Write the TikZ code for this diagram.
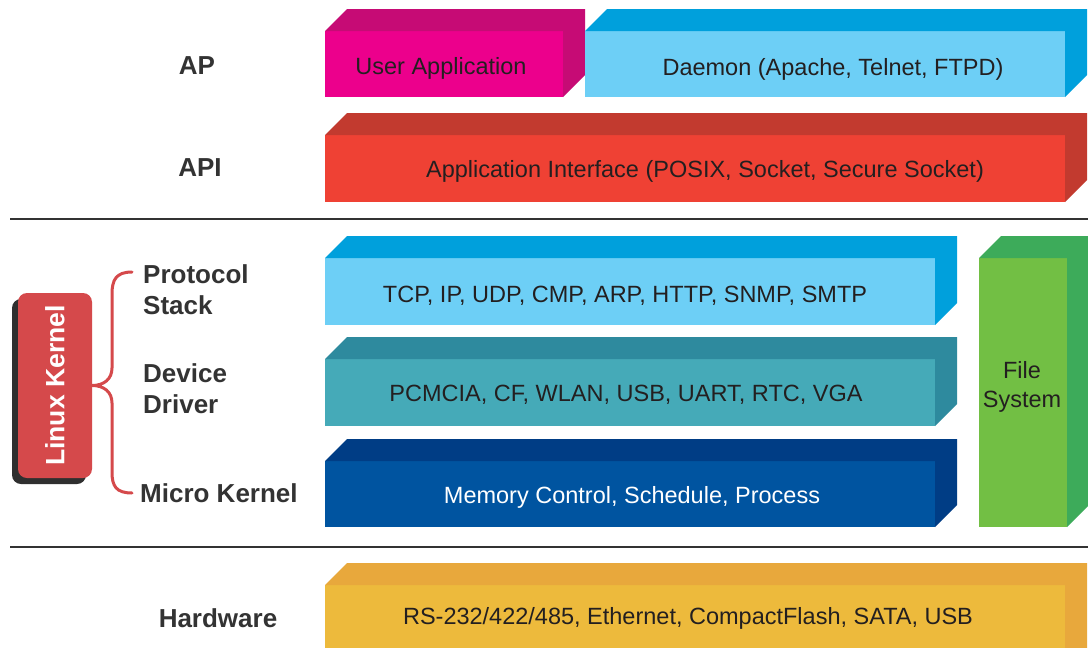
\documentclass[tikz,border=0pt]{standalone}
\usepackage{fontspec}
\setmainfont{Liberation Sans}
\usepackage{graphicx}
\definecolor{txt}{HTML}{231F20}
\definecolor{lblc}{HTML}{333333}
\definecolor{magF}{HTML}{EC008C}
\definecolor{magS}{HTML}{C60B75}
\definecolor{cyanF}{HTML}{6DCFF6}
\definecolor{cyanS}{HTML}{00A0DC}
\definecolor{redF}{HTML}{EF4134}
\definecolor{redS}{HTML}{C23A2F}
\definecolor{tealF}{HTML}{45AAB8}
\definecolor{tealS}{HTML}{2E8A9E}
\definecolor{navyF}{HTML}{0054A0}
\definecolor{navyS}{HTML}{003D85}
\definecolor{greenF}{HTML}{72BF44}
\definecolor{greenS}{HTML}{3DAB5A}
\definecolor{yelF}{HTML}{EDBA3C}
\definecolor{yelS}{HTML}{E8A83C}
\definecolor{lkred}{HTML}{D5494B}
\definecolor{shadowc}{HTML}{2F2F2F}
\tikzset{
  frontface/.style={inner sep=0pt, outer sep=0pt, draw=none},
  boxtext/.style={inner sep=0pt, font=\fontsize{23.5}{29}\selectfont, text=txt, align=center},
  lbl/.style={inner sep=0pt, anchor=west, font=\fontsize{26}{31}\selectfont\bfseries, text=lblc, align=left},
  clbl/.style={inner sep=0pt, font=\fontsize{26}{31}\selectfont\bfseries, text=lblc},
  sepline/.style={line width=2pt, draw=lblc},
  bracestyle/.style={line width=3pt, draw=lkred, line cap=round},
}
% name, x1, y1, x2, y2, front colour, side colour
\newcommand\cuboid[7]{%
  \node[frontface, fill=#6, minimum width={(#4-#2)*1pt}, minimum height={(#5-#3)*1pt}] (#1) at ({(#2+#4)/2},{(#3+#5)/2}) {};
  \fill[#7] (#1.north west) -- ++(22,-22) -- ++({#4-#2},0) -- ++(0,{#5-#3}) -- (#1.south east) -- (#1.north east) -- cycle;
}
\begin{document}
\begin{tikzpicture}[x=1pt,y=-1pt]
\useasboundingbox (0,0) rectangle (1088,648);
\fill[white] (0,0) rectangle (1088,648);

% layer boxes
\cuboid{ua}{325}{31}{563}{97}{magF}{magS}
\cuboid{dm}{585}{31}{1065}{97}{cyanF}{cyanS}
\cuboid{api}{325}{135}{1065}{202}{redF}{redS}
\cuboid{ps}{325}{258}{935}{325}{cyanF}{cyanS}
\cuboid{dd}{325}{359}{935}{426}{tealF}{tealS}
\cuboid{mk}{325}{461}{935}{527}{navyF}{navyS}
\cuboid{fs}{979}{258}{1067}{527}{greenF}{greenS}
\cuboid{hw}{325}{585}{1065}{680}{yelF}{yelS}

\node[boxtext] (uat) at (441,68) {User Application};
\node[boxtext] (dmt) at (833,69) {Daemon (Apache, Telnet, FTPD)};
\node[boxtext] (apit) at (705,171) {Application Interface (POSIX, Socket, Secure Socket)};
\node[boxtext] (pst) at (625,296) {TCP, IP, UDP, CMP, ARP, HTTP, SNMP, SMTP};
\node[boxtext] (ddt) at (626,395) {PCMCIA, CF, WLAN, USB, UART, RTC, VGA};
\node[boxtext, text=white] (mkt) at (632,497) {Memory Control, Schedule, Process};
\node[boxtext] (fst) at (1022,387) {File\\System};
\node[boxtext] (hwt) at (688,618) {RS-232/422/485, Ethernet, CompactFlash, SATA, USB};

% separators
\coordinate (s1a) at (10,219); \coordinate (s1b) at (1088,219);
\coordinate (s2a) at (10,547); \coordinate (s2b) at (1088,547);
\draw[sepline] (s1a) -- (s1b);
\draw[sepline] (s2a) -- (s2b);

% left labels
\node[clbl] (lap) at (197,66) {AP};
\node[clbl] (lapi) at (200,168) {API};
\node[lbl] (lps) at (143,290) {Protocol\\Stack};
\node[lbl] (ldd) at (143,389) {Device\\Driver};
\node[lbl] (lmk) at (140,493) {Micro Kernel};
\node[clbl] (lhw) at (218,618) {Hardware};

% Linux kernel
\fill[shadowc, rounded corners=9pt] (12,299) rectangle (86,484);
\node[inner sep=0pt, fill=lkred, rounded corners=9pt, minimum width=74pt, minimum height=185pt, text=white,
      font=\fontsize{26.5}{30}\selectfont\bfseries] (lk) at (55,385.5) {\rotatebox{90}{Linux Kernel}};

% brace
\coordinate (bt) at (132,272);
\coordinate (bb) at (132,493);
\draw[bracestyle] (bt) .. controls (116,272) and (112,280) .. (112,294) -- (112,368)
   .. controls (112,379) and (104,385.5) .. (lk.east)
   .. controls (104,385.5) and (112,392) .. (112,403) -- (112,472)
   .. controls (112,486) and (116,493) .. (bb);
\end{tikzpicture}
\end{document}
